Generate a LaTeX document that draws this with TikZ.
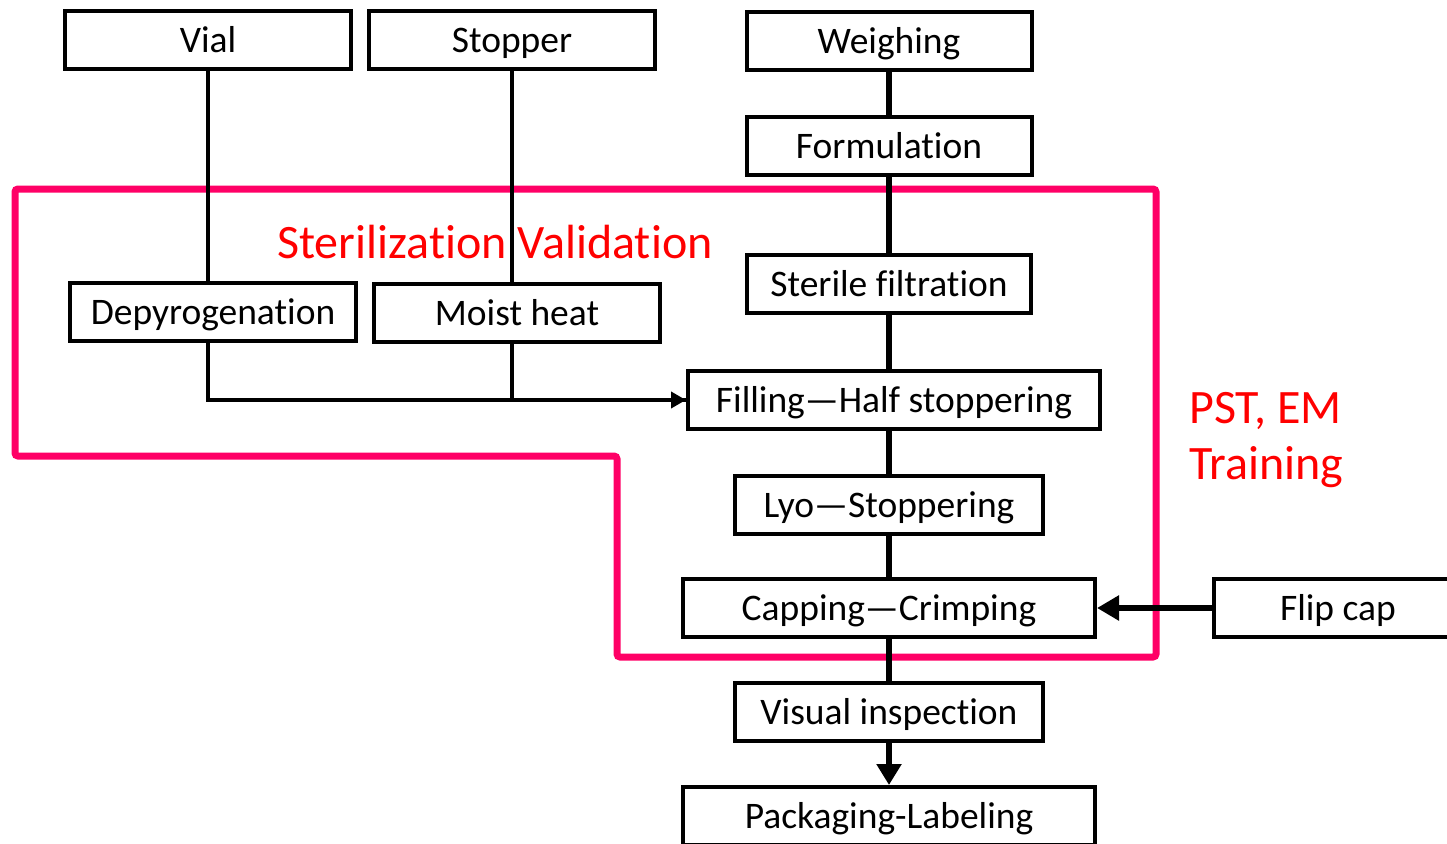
\documentclass[tikz,border=0pt]{standalone}
\usepackage{fontspec}
\setmainfont[Ligatures={NoCommon,NoContextual},RawFeature={-liga;-clig;-dlig}]{Carlito}
\usetikzlibrary{arrows.meta}
\definecolor{pinkline}{RGB}{255,0,102}
\begin{document}
\begin{tikzpicture}[x=1pt,y=-1pt,
  box/.style={draw, line width=4pt, minimum height=58pt, inner sep=0pt,
    text height=25pt, text depth=0pt, font=\fontsize{37.5}{45}\selectfont},
  thinline/.style={line width=4pt},
  spine/.style={line width=6.5pt},
  redtxt/.style={text=red, inner sep=0pt, font=\fontsize{48}{56.5}\selectfont},
  frame/.style={draw=pinkline, line width=7pt, rounded corners=3pt}]
\useasboundingbox (0,0) rectangle (1447,843);
% pink frame
\draw[frame] (15,189) -- (1156,189) -- (1156,657) -- (617,657) -- (617,456) -- (15,456) -- cycle;
% boxes
\node[box, minimum width=286pt] (vial) at (208,40) {Vial};
\node[box, minimum width=286pt] (stop) at (512,40) {Stopper};
\node[box, minimum width=285pt] (weigh) at (889,41) {Weighing};
\node[box, minimum width=285pt] (form) at (889,146) {Formulation};
\node[box, minimum width=284pt] (steril) at (889,284) {Sterile filtration};
\node[box, minimum width=286pt] (dep) at (213,311.5) {Depyrogenation};
\node[box, minimum width=286pt] (moist) at (517,313) {Moist heat};
\node[box, minimum width=412pt] (fill) at (894,400) {Filling---Half stoppering};
\node[box, minimum width=308pt] (lyo) at (889,505) {Lyo---Stoppering};
\node[box, minimum width=412pt] (cap) at (889,608) {Capping---Crimping};
\node[box, minimum width=248pt] (flip) at (1338,608) {Flip cap};
\node[box, minimum width=308pt] (vis) at (889,712) {Visual inspection};
\node[box, minimum width=412pt] (pack) at (889,816) {Packaging-Labeling};
% texts
\node[redtxt, anchor=base] (sv) at (495,258) {Sterilization Validation};
\node[redtxt, anchor=north west, align=left] (pst) at (1189,392) {PST, EM\\Training};
% connectors
\draw[thinline] (vial.south) -- (vial.south |- dep.north);
\draw[thinline] (stop.south) -- (stop.south |- moist.north);
\draw[thinline, -{Triangle[length=15pt,width=16pt]}] (vial.south |- dep.south) |- (fill.west);
\draw[thinline] (stop.south |- moist.south) |- (fill.west);
\draw[spine] (weigh.south) -- (form.north);
\draw[spine] (form.south) -- (steril.north);
\draw[spine] (steril.south) -- (steril.south |- fill.north);
\draw[spine] (steril.south |- fill.south) -- (lyo.north);
\draw[spine] (lyo.south) -- (cap.north);
\draw[spine] (cap.south) -- (vis.north);
\draw[spine, -{Triangle[length=21pt,width=24pt]}] (vis.south) -- (pack.north);
\draw[spine, -{Triangle[length=22pt,width=24pt]}] (flip.west) -- (cap.east);
\end{tikzpicture}
\end{document}
